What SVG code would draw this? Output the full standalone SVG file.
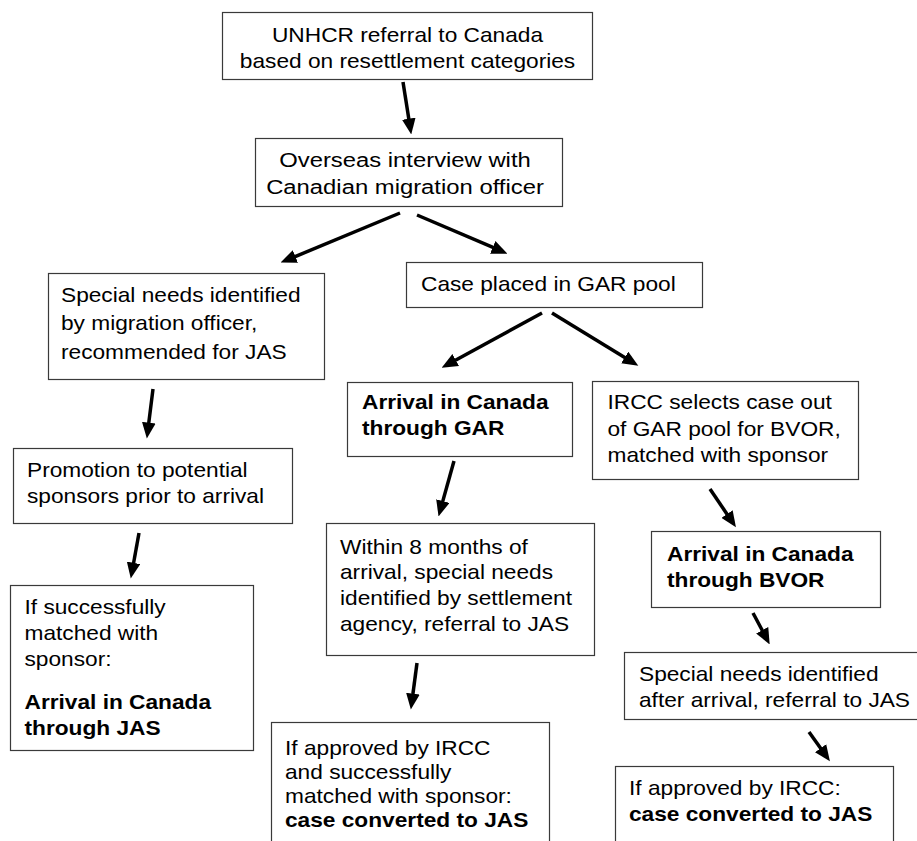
<svg xmlns="http://www.w3.org/2000/svg" width="917" height="841" viewBox="0 0 917 841">
<style>
.box{fill:#fff;stroke:#3a3a3a;stroke-width:1.2}
.t{font-family:"Liberation Sans",Arial,sans-serif;font-size:20px;fill:#000}
.c{text-anchor:middle}
.b{font-weight:bold}
.arr{stroke:#000;stroke-width:3.5;fill:none;marker-end:url(#ah)}
</style>
<defs>
<marker id="ah" markerUnits="userSpaceOnUse" markerWidth="16" markerHeight="14" viewBox="0 0 14 12" refX="3" refY="6" orient="auto">
<path d="M0,0 L14,6 L0,12 z" fill="#000"/>
</marker>
</defs>
<rect width="917" height="841" fill="#fff"/>
<g id="connectors">
<line class="arr" x1="403" y1="82" x2="409.3" y2="122.1"/>
<line class="arr" x1="400" y1="213" x2="292.2" y2="257.8"/>
<line class="arr" x1="417" y1="215" x2="495.9" y2="248.7"/>
<line class="arr" x1="542" y1="313" x2="452.7" y2="361.7"/>
<line class="arr" x1="552" y1="313" x2="627.6" y2="359.3"/>
<line class="arr" x1="153" y1="389" x2="148.4" y2="426.1"/>
<line class="arr" x1="139" y1="533" x2="133" y2="566.2"/>
<line class="arr" x1="454" y1="461" x2="441.9" y2="504.4"/>
<line class="arr" x1="417" y1="663" x2="412.5" y2="697.1"/>
<line class="arr" x1="710" y1="489" x2="728.9" y2="516.9"/>
<line class="arr" x1="753" y1="613" x2="763.8" y2="633.3"/>
<line class="arr" x1="809" y1="732" x2="822.6" y2="751"/>
</g>
<g id="n1">
<rect class="box" x="222.5" y="12.5" width="370" height="67"/>
<text class="t c" transform="translate(407.5,41.5) scale(1.135,1)"><tspan x="0" y="0">UNHCR referral to Canada</tspan><tspan x="0" y="27">based on resettlement categories</tspan></text>
</g>
<g id="n2">
<rect class="box" x="255.5" y="138.5" width="307" height="68"/>
<text class="t c" style="font-size:21px" transform="translate(405,166.5) scale(1.135,1)"><tspan x="0" y="0">Overseas interview with</tspan><tspan x="0" y="28">Canadian migration officer</tspan></text>
</g>
<g id="n3">
<rect class="box" x="48.5" y="273.5" width="276" height="106"/>
<text class="t" transform="translate(61,302) scale(1.135,1)"><tspan x="0" y="0">Special needs identified</tspan><tspan x="0" y="28.5">by migration officer,</tspan><tspan x="0" y="57">recommended for JAS</tspan></text>
</g>
<g id="n4">
<rect class="box" x="406.5" y="262.5" width="296" height="45"/>
<text class="t" transform="translate(421,291) scale(1.135,1)">Case placed in GAR pool</text>
</g>
<g id="n5">
<rect class="box" x="347.5" y="382.5" width="225" height="74"/>
<text class="t b" transform="translate(362,409) scale(1.135,1)"><tspan x="0" y="0">Arrival in Canada</tspan><tspan x="0" y="26">through GAR</tspan></text>
</g>
<g id="n6">
<rect class="box" x="592.5" y="381.5" width="266" height="98"/>
<text class="t" transform="translate(607.5,409) scale(1.135,1)"><tspan x="0" y="0">IRCC selects case out</tspan><tspan x="0" y="27">of GAR pool for BVOR,</tspan><tspan x="0" y="53">matched with sponsor</tspan></text>
</g>
<g id="n7">
<rect class="box" x="13.5" y="448.5" width="279" height="75"/>
<text class="t" transform="translate(27,477) scale(1.135,1)"><tspan x="0" y="0">Promotion to potential</tspan><tspan x="0" y="26">sponsors prior to arrival</tspan></text>
</g>
<g id="n8">
<rect class="box" x="10.5" y="585.5" width="243" height="165"/>
<text class="t" transform="translate(24.5,614) scale(1.135,1)"><tspan x="0" y="0">If successfully</tspan><tspan x="0" y="26">matched with</tspan><tspan x="0" y="52">sponsor:</tspan><tspan class="b" x="0" y="95">Arrival in Canada</tspan><tspan class="b" x="0" y="121">through JAS</tspan></text>
</g>
<g id="n9">
<rect class="box" x="326.5" y="523.5" width="268" height="132"/>
<text class="t" transform="translate(340,553.5) scale(1.135,1)"><tspan x="0" y="0">Within 8 months of</tspan><tspan x="0" y="26">arrival, special needs</tspan><tspan x="0" y="52">identified by settlement</tspan><tspan x="0" y="78">agency, referral to JAS</tspan></text>
</g>
<g id="n10">
<rect class="box" x="271.5" y="722.5" width="278" height="130"/>
<text class="t" transform="translate(285,755) scale(1.135,1)"><tspan x="0" y="0">If approved by IRCC</tspan><tspan x="0" y="24">and successfully</tspan><tspan x="0" y="48">matched with sponsor:</tspan><tspan class="b" x="0" y="72">case converted to JAS</tspan></text>
</g>
<g id="n11">
<rect class="box" x="651.5" y="531.5" width="229" height="76"/>
<text class="t b" transform="translate(667,560.5) scale(1.135,1)"><tspan x="0" y="0">Arrival in Canada</tspan><tspan x="0" y="27">through BVOR</tspan></text>
</g>
<g id="n12">
<rect class="box" x="624.5" y="652.5" width="310" height="67"/>
<text class="t" transform="translate(639,681) scale(1.135,1)"><tspan x="0" y="0">Special needs identified</tspan><tspan x="0" y="26">after arrival, referral to JAS</tspan></text>
</g>
<g id="n13">
<rect class="box" x="615.5" y="766.5" width="278" height="90"/>
<text class="t" transform="translate(629,794.5) scale(1.135,1)"><tspan x="0" y="0">If approved by IRCC:</tspan><tspan class="b" x="0" y="27">case converted to JAS</tspan></text>
</g>
</svg>
